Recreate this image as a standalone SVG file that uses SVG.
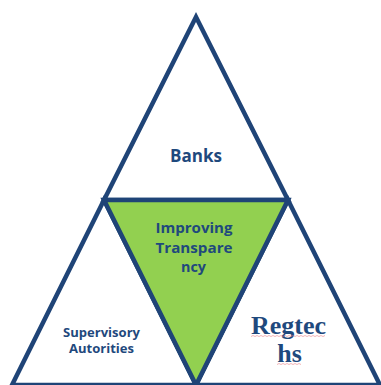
<svg xmlns="http://www.w3.org/2000/svg" width="381" height="385" viewBox="0 0 381 385">
  <style>
    .tri { fill: #ffffff; stroke: #1F4477; stroke-width: 4.5; stroke-linejoin: miter; stroke-miterlimit: 10; }
    .tri.core { fill: #92D050; }
    .lbl { font-family: "Open Sans", "Noto Sans", "Liberation Sans", sans-serif; font-weight: 700; fill: #1F497D; text-anchor: middle; }
    .serif { font-family: "Liberation Serif", "DejaVu Serif", serif; font-weight: 700; fill: #1F497D; text-anchor: middle; }
    .spell { fill: none; stroke: #E8787C; stroke-width: 0.8; opacity: 0.7; }
  </style>
  <rect width="381" height="385" fill="#ffffff"/>

  <!-- top triangle -->
  <g id="banks">
    <polygon class="tri" points="196,17 104,200 288,200"/>
    <text class="lbl" x="196" y="162" font-size="18.5" textLength="52" lengthAdjust="spacingAndGlyphs">Banks</text>
  </g>

  <!-- lower left triangle -->
  <g id="supervisory-authorities">
    <polygon class="tri" points="104,200 12,385 196,385"/>
    <text class="lbl" x="101.5" y="336.5" font-size="12.5" textLength="77" lengthAdjust="spacingAndGlyphs">Supervisory</text>
    <text class="lbl" x="101.5" y="352.5" font-size="12.5" textLength="65" lengthAdjust="spacingAndGlyphs">Autorities</text>
  </g>

  <!-- lower right triangle -->
  <g id="regtechs">
    <polygon class="tri" points="288,200 196,385 380,385"/>
    <text class="serif" x="288.5" y="334" font-size="26">Regtec</text>
    <text class="serif" x="289.5" y="362" font-size="26">hs</text>
    <path class="spell" d="M251,336.5 l2,-1 l2,1 l2,-1 l2,1 l2,-1 l2,1 l2,-1 l2,1 l2,-1 l2,1 l2,-1 l2,1 l2,-1 l2,1 l2,-1 l2,1 l2,-1 l2,1 l2,-1 l2,1 l2,-1 l2,1 l2,-1 l2,1 l2,-1 l2,1 l2,-1 l2,1 l2,-1 l2,1 l2,-1 l2,1 l2,-1 l2,1 l2,-1 l2,1 l2,-1"/>
    <path class="spell" d="M277,364.5 l2,-1 l2,1 l2,-1 l2,1 l2,-1 l2,1 l2,-1 l2,1 l2,-1 l2,1 l2,-1 l2,1"/>
  </g>

  <!-- central inverted triangle -->
  <g id="improving-transparency">
    <polygon class="tri core" points="104,200 288,200 196,385"/>
    <text class="lbl" x="194" y="233" font-size="15" textLength="77" lengthAdjust="spacingAndGlyphs">Improving</text>
    <text class="lbl" x="194" y="252.5" font-size="15" textLength="77" lengthAdjust="spacingAndGlyphs">Transpare</text>
    <text class="lbl" x="193.5" y="272" font-size="15" textLength="25" lengthAdjust="spacingAndGlyphs">ncy</text>
  </g>
</svg>
